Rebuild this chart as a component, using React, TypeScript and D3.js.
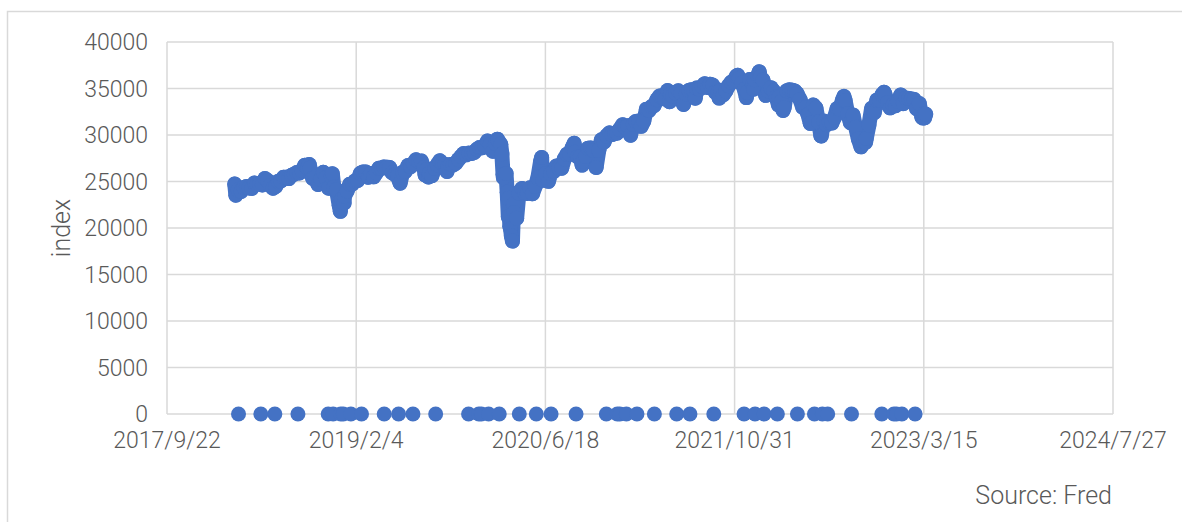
import React from "react";
import * as d3 from "d3";

// Dow Jones Industrial Average, weekly closes (plus a few daily extremes)
const dow2018: [string, number][] = [
  ["2018-03-20", 24727], ["2018-03-23", 23533], ["2018-03-29", 24103], ["2018-04-06", 23933],
  ["2018-04-13", 24360], ["2018-04-20", 24463], ["2018-04-27", 24311], ["2018-05-04", 24263],
  ["2018-05-11", 24831], ["2018-05-18", 24715], ["2018-05-25", 24753], ["2018-06-01", 24635],
  ["2018-06-08", 25317], ["2018-06-15", 25090], ["2018-06-22", 24581], ["2018-06-29", 24271],
  ["2018-07-06", 24456], ["2018-07-13", 25019], ["2018-07-20", 25058], ["2018-07-27", 25451],
  ["2018-08-03", 25463], ["2018-08-10", 25313], ["2018-08-17", 25669], ["2018-08-24", 25790],
  ["2018-08-31", 25965], ["2018-09-07", 25917], ["2018-09-14", 26154], ["2018-09-21", 26744],
  ["2018-09-28", 26458], ["2018-10-03", 26828], ["2018-10-05", 26447], ["2018-10-12", 25340],
  ["2018-10-19", 25444], ["2018-10-26", 24688], ["2018-11-02", 25271], ["2018-11-09", 25989],
  ["2018-11-16", 25413], ["2018-11-23", 24285], ["2018-11-30", 25538], ["2018-12-03", 25826],
  ["2018-12-07", 24389], ["2018-12-14", 24101], ["2018-12-21", 22445], ["2018-12-24", 21792],
  ["2018-12-26", 22878], ["2018-12-28", 23062],
];

const dow2019: [string, number][] = [
  ["2019-01-03", 22686], ["2019-01-04", 23433], ["2019-01-11", 23996], ["2019-01-18", 24706],
  ["2019-01-25", 24737], ["2019-02-01", 25064], ["2019-02-08", 25106], ["2019-02-15", 25883],
  ["2019-02-22", 26031], ["2019-03-01", 26026], ["2019-03-08", 25450], ["2019-03-15", 25849],
  ["2019-03-22", 25502], ["2019-03-29", 25929], ["2019-04-05", 26425], ["2019-04-12", 26412],
  ["2019-04-18", 26559], ["2019-04-26", 26543], ["2019-05-03", 26505], ["2019-05-10", 25942],
  ["2019-05-17", 25764], ["2019-05-24", 25586], ["2019-05-31", 24815], ["2019-06-07", 25984],
  ["2019-06-14", 26090], ["2019-06-21", 26720], ["2019-06-28", 26600], ["2019-07-05", 26922],
  ["2019-07-12", 27332], ["2019-07-19", 27154], ["2019-07-26", 27192], ["2019-08-02", 26485],
  ["2019-08-05", 25718], ["2019-08-09", 26287], ["2019-08-14", 25479], ["2019-08-16", 25886],
  ["2019-08-23", 25629], ["2019-08-30", 26403], ["2019-09-06", 26797], ["2019-09-13", 27220],
  ["2019-09-20", 26935], ["2019-09-27", 26820], ["2019-10-02", 26079], ["2019-10-04", 26573],
  ["2019-10-11", 26817], ["2019-10-18", 26770], ["2019-10-25", 26958], ["2019-11-01", 27347],
  ["2019-11-08", 27681], ["2019-11-15", 28005], ["2019-11-22", 27876], ["2019-11-29", 28051],
  ["2019-12-06", 28015], ["2019-12-13", 28135], ["2019-12-20", 28455], ["2019-12-27", 28645],
];

const dow2020: [string, number][] = [
  ["2020-01-03", 28634], ["2020-01-10", 28824], ["2020-01-17", 29348], ["2020-01-24", 28990],
  ["2020-01-31", 28256], ["2020-02-07", 29102], ["2020-02-12", 29551], ["2020-02-14", 29398],
  ["2020-02-21", 28992], ["2020-02-24", 27961], ["2020-02-27", 25766], ["2020-02-28", 25409],
  ["2020-03-06", 25865], ["2020-03-09", 23851], ["2020-03-12", 21200], ["2020-03-13", 23186],
  ["2020-03-16", 20188], ["2020-03-18", 19899], ["2020-03-20", 19174], ["2020-03-23", 18592],
  ["2020-03-26", 22552], ["2020-03-27", 21637], ["2020-04-03", 21053], ["2020-04-09", 23719],
  ["2020-04-17", 24242], ["2020-04-24", 23775], ["2020-05-01", 23724], ["2020-05-08", 24331],
  ["2020-05-15", 23685], ["2020-05-22", 24465], ["2020-05-29", 25383], ["2020-06-05", 27111],
  ["2020-06-08", 27572], ["2020-06-11", 25128], ["2020-06-19", 25871], ["2020-06-26", 25016],
  ["2020-07-02", 25827], ["2020-07-10", 26075], ["2020-07-17", 26672], ["2020-07-24", 26470],
  ["2020-07-31", 26428], ["2020-08-07", 27433], ["2020-08-14", 27931], ["2020-08-21", 27930],
  ["2020-08-28", 28654], ["2020-09-02", 29100], ["2020-09-04", 28133], ["2020-09-11", 27666],
  ["2020-09-18", 27657], ["2020-09-23", 26763], ["2020-09-25", 27174], ["2020-10-02", 27683],
  ["2020-10-09", 28587], ["2020-10-16", 28606], ["2020-10-23", 28336], ["2020-10-30", 26502],
  ["2020-11-06", 28323], ["2020-11-13", 29480], ["2020-11-20", 29263], ["2020-11-27", 29910],
  ["2020-12-04", 30218], ["2020-12-11", 30046], ["2020-12-18", 30179], ["2020-12-24", 30200],
  ["2020-12-31", 30606],
];

const dow2021: [string, number][] = [
  ["2021-01-08", 31098], ["2021-01-15", 30814], ["2021-01-22", 30997], ["2021-01-29", 29983],
  ["2021-02-05", 31148], ["2021-02-12", 31458], ["2021-02-19", 31494], ["2021-02-26", 30932],
  ["2021-03-05", 31496], ["2021-03-12", 32779], ["2021-03-19", 32628], ["2021-03-26", 33072],
  ["2021-04-01", 33153], ["2021-04-09", 33801], ["2021-04-16", 34200], ["2021-04-23", 34043],
  ["2021-04-30", 33875], ["2021-05-07", 34778], ["2021-05-12", 33587], ["2021-05-14", 34382],
  ["2021-05-21", 34208], ["2021-05-28", 34529], ["2021-06-04", 34756], ["2021-06-11", 34480],
  ["2021-06-18", 33290], ["2021-06-25", 34433], ["2021-07-02", 34786], ["2021-07-09", 34870],
  ["2021-07-16", 34687], ["2021-07-19", 33962], ["2021-07-23", 35061], ["2021-07-30", 34935],
  ["2021-08-06", 35208], ["2021-08-13", 35515], ["2021-08-20", 35120], ["2021-08-27", 35455],
  ["2021-09-03", 35369], ["2021-09-10", 34607], ["2021-09-17", 34584], ["2021-09-20", 33970],
  ["2021-09-24", 34798], ["2021-10-01", 34326], ["2021-10-08", 34746], ["2021-10-15", 35295],
  ["2021-10-22", 35677], ["2021-10-29", 35820], ["2021-11-05", 36328], ["2021-11-08", 36432],
  ["2021-11-12", 36100], ["2021-11-19", 35602], ["2021-11-26", 34899], ["2021-12-01", 34022],
  ["2021-12-03", 34580], ["2021-12-10", 35971], ["2021-12-17", 35365], ["2021-12-20", 34932],
  ["2021-12-23", 35950], ["2021-12-31", 36338],
];

const dow2022: [string, number][] = [
  ["2022-01-04", 36799], ["2022-01-07", 36232], ["2022-01-14", 35912], ["2022-01-21", 34265],
  ["2022-01-24", 34364], ["2022-01-28", 34725], ["2022-02-04", 35090], ["2022-02-11", 34738],
  ["2022-02-18", 34079], ["2022-02-24", 33224], ["2022-02-25", 34059], ["2022-03-04", 33615],
  ["2022-03-08", 32632], ["2022-03-11", 32944], ["2022-03-18", 34755], ["2022-03-25", 34861],
  ["2022-04-01", 34818], ["2022-04-08", 34721], ["2022-04-14", 34451], ["2022-04-22", 33811],
  ["2022-04-29", 32977], ["2022-05-06", 32899], ["2022-05-13", 32197], ["2022-05-19", 31253],
  ["2022-05-20", 31262], ["2022-05-27", 33213], ["2022-06-03", 32900], ["2022-06-10", 31393],
  ["2022-06-16", 29927], ["2022-06-17", 29889], ["2022-06-24", 31501], ["2022-07-01", 31097],
  ["2022-07-08", 31338], ["2022-07-15", 31289], ["2022-07-22", 31899], ["2022-07-29", 32845],
  ["2022-08-05", 32803], ["2022-08-12", 33761], ["2022-08-16", 34152], ["2022-08-19", 33707],
  ["2022-08-26", 32283], ["2022-09-02", 31318], ["2022-09-09", 32152], ["2022-09-16", 30822],
  ["2022-09-23", 29590], ["2022-09-30", 28726], ["2022-10-07", 29297], ["2022-10-12", 29210],
  ["2022-10-14", 29635], ["2022-10-21", 31083], ["2022-10-28", 32862], ["2022-11-04", 32403],
  ["2022-11-11", 33748], ["2022-11-18", 33746], ["2022-11-25", 34347], ["2022-11-30", 34590],
  ["2022-12-02", 34430], ["2022-12-09", 33477], ["2022-12-16", 32920], ["2022-12-23", 33204],
  ["2022-12-30", 33147],
];

const dow2023: [string, number][] = [
  ["2023-01-06", 33631], ["2023-01-13", 34303], ["2023-01-20", 33375], ["2023-01-27", 33978],
  ["2023-02-03", 33926], ["2023-02-10", 33870], ["2023-02-17", 33827], ["2023-02-24", 32817],
  ["2023-03-03", 33391], ["2023-03-10", 31910], ["2023-03-13", 31820], ["2023-03-16", 32247],
  ["2023-03-17", 31862], ["2023-03-20", 32245],
];

// market holidays: blank in the source, plotted as 0
const holidayDates = [
  "2018-03-30", "2018-05-28", "2018-07-04", "2018-09-03", "2018-11-22", "2018-12-05", "2018-12-25",
  "2019-01-01", "2019-01-21", "2019-02-18", "2019-04-19", "2019-05-27", "2019-07-04", "2019-09-02",
  "2019-11-28", "2019-12-25", "2020-01-01", "2020-01-20", "2020-02-17", "2020-04-10", "2020-05-25",
  "2020-07-03", "2020-09-07", "2020-11-26", "2020-12-25", "2021-01-01", "2021-01-18", "2021-02-15",
  "2021-04-02", "2021-05-31", "2021-07-05", "2021-09-06", "2021-11-25", "2021-12-24", "2022-01-17",
  "2022-02-21", "2022-04-15", "2022-05-30", "2022-06-20", "2022-07-04", "2022-09-05", "2022-11-24",
  "2022-12-26", "2023-01-02", "2023-01-16", "2023-02-20",
];

const xTickLabels = ["2017/9/22", "2019/2/4", "2020/6/18", "2021/10/31", "2023/3/15", "2024/7/27"];
const yTicks = [0, 5000, 10000, 15000, 20000, 25000, 30000, 35000, 40000];

const W = 1182;
const H = 522;
const plot = { left: 167, right: 1113, top: 42, bottom: 414 };
const BLUE = "#4472C4";
const GRID = "#d9d9d9";
const TEXT = "#595959";
const FONT = "DengXian, 'Microsoft YaHei', Roboto, 'Liberation Sans', sans-serif";
const R = 7.5;

const parseIso = (s: string) => {
  const [y, m, d] = s.split("-").map(Number);
  return new Date(Date.UTC(y, m - 1, d));
};
const parseSlash = (s: string) => {
  const [y, m, d] = s.split("/").map(Number);
  return new Date(Date.UTC(y, m - 1, d));
};

export default function App() {
  const series = [...dow2018, ...dow2019, ...dow2020, ...dow2021, ...dow2022, ...dow2023];
  const tickDates = xTickLabels.map(parseSlash);

  const x = d3.scaleUtc()
    .domain([tickDates[0], tickDates[tickDates.length - 1]])
    .range([plot.left, plot.right]);
  const y = d3.scaleLinear().domain([0, 40000]).range([plot.bottom, plot.top]);

  // daily markers in the source run together into a band; the path joins the weekly points the same way
  const band = d3.line<[string, number]>()
    .x((d) => x(parseIso(d[0])))
    .y((d) => y(d[1]))(series);

  return (
    <svg
      width={W}
      height={H}
      style={{ position: "absolute", left: 0, top: 0, background: "#fff" }}
      fontFamily={FONT}
      fontWeight={300}
    >
      {/* chart area border */}
      <rect x={7.5} y={11.5} width={1300} height={700} fill="#fff" stroke={GRID} strokeWidth={1.5} />

      {/* horizontal grid */}
      {yTicks.map((t) => (
        <line key={"h" + t} x1={plot.left} x2={plot.right} y1={y(t)} y2={y(t)} stroke={GRID} strokeWidth={1.5} />
      ))}
      {/* vertical grid */}
      {tickDates.map((d, i) => (
        <line key={"v" + i} x1={x(d)} x2={x(d)} y1={plot.top} y2={plot.bottom} stroke={GRID} strokeWidth={1.5} />
      ))}

      {/* y tick labels */}
      {yTicks.map((t) => (
        <text key={"yl" + t} x={148} y={y(t)} dy="0.35em" textAnchor="end" fontSize={23} fill={TEXT}>
          {t}
        </text>
      ))}
      {/* x tick labels */}
      {tickDates.map((d, i) => (
        <text key={"xl" + i} x={x(d)} y={448} textAnchor="middle" fontSize={23} fill={TEXT}>
          {xTickLabels[i]}
        </text>
      ))}

      <text
        transform={`translate(70,${(plot.top + plot.bottom) / 2}) rotate(-90)`}
        textAnchor="middle"
        fontSize={25}
        fill={TEXT}
      >
        index
      </text>

      {/* zero-valued holiday points */}
      {holidayDates.map((d) => (
        <circle key={"z" + d} cx={x(parseIso(d))} cy={y(0)} r={R} fill={BLUE} />
      ))}
      {/* index points */}
      <path d={band ?? ""} fill="none" stroke={BLUE} strokeWidth={R * 2} strokeLinejoin="round" strokeLinecap="round" />
      {series.map(([d, v]) => (
        <circle key={d} cx={x(parseIso(d))} cy={y(v)} r={R} fill={BLUE} />
      ))}

      <text x={1112} y={504} textAnchor="end" fontSize={25} fill={TEXT}>
        Source: Fred
      </text>
    </svg>
  );
}
